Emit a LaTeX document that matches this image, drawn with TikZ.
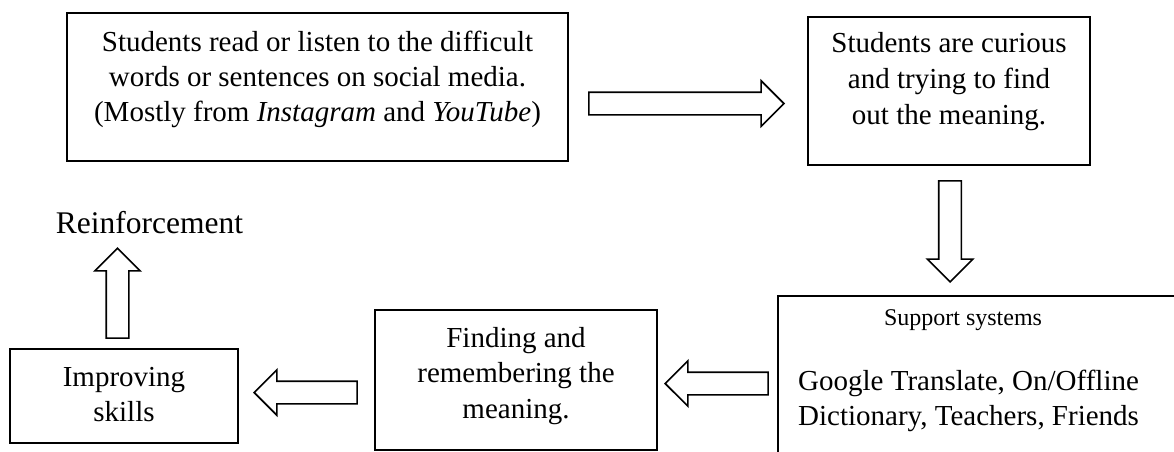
\documentclass[tikz,border=0pt]{standalone}
\usepackage{fontspec}
\setmainfont{Liberation Serif}
\usetikzlibrary{shapes.arrows}
\tikzstyle{box}=[draw,rectangle,line width=1.6pt,inner sep=0pt,outer sep=0pt]
\tikzstyle{boxtext}=[align=center,inner sep=0pt,font=\fontsize{29}{35}\selectfont]
\tikzstyle{blockarrow}=[draw,single arrow,line width=1.6pt,inner sep=10.5pt,
  single arrow head extend=11.5pt,anchor=tip]

\begin{document}
\begin{tikzpicture}[x=1pt,y=-1pt]
  \path [use as bounding box] (0,0) rectangle (1174,451);
  \clip (0,0) rectangle (1174,451);

  % boxes
  \node[box,minimum width=501pt,minimum height=148pt] (read) at (317.5,87) {};
  \node[boxtext] (readtxt) at (317.5,79) {Students read or listen to the difficult\\words or sentences on social media.\\(Mostly from \textit{Instagram} and \textit{YouTube})};

  \node[box,minimum width=282pt,minimum height=148pt] (curious) at (949,91) {};
  \node[boxtext,font=\fontsize{29}{36}\selectfont] (curioustxt) at (949,82) {Students are curious\\and trying to find\\out the meaning.};

  \node[box,minimum width=422pt,minimum height=184pt] (support) at (989,388) {};
  \node[font=\fontsize{24}{28}\selectfont,anchor=base,inner sep=0pt] (supporthead) at (963,325) {Support systems};
  \node[boxtext,align=left,anchor=west] (supporttxt) at (798,400.5) {Google Translate, On/Offline\\Dictionary, Teachers, Friends};

  \node[box,minimum width=282pt,minimum height=140pt] (finding) at (516,380) {};
  \node[boxtext,font=\fontsize{29}{35.5}\selectfont] (findingtxt) at (516,376) {Finding and\\remembering the\\meaning.};

  \node[box,minimum width=228pt,minimum height=94pt] (improve) at (124,396) {};
  \node[boxtext] (improvetxt) at (124,394.5) {Improving\\skills};

  \node[font=\fontsize{31.5}{36}\selectfont,anchor=base,inner sep=0pt] (reinf) at (149.5,233) {Reinforcement};

  % block arrows
  \node[blockarrow,minimum height=195pt] (a1) at (785,103.5) {};
  \node[blockarrow,minimum height=101pt,shape border rotate=270] (a2) at (950,283) {};
  \node[blockarrow,minimum height=103pt,shape border rotate=180] (a3) at (664,383.5) {};
  \node[blockarrow,minimum height=103pt,shape border rotate=180] (a4) at (253,392.5) {};
  \node[blockarrow,minimum height=90pt,shape border rotate=90] (a5) at (117.5,247) {};
\end{tikzpicture}
\end{document}
